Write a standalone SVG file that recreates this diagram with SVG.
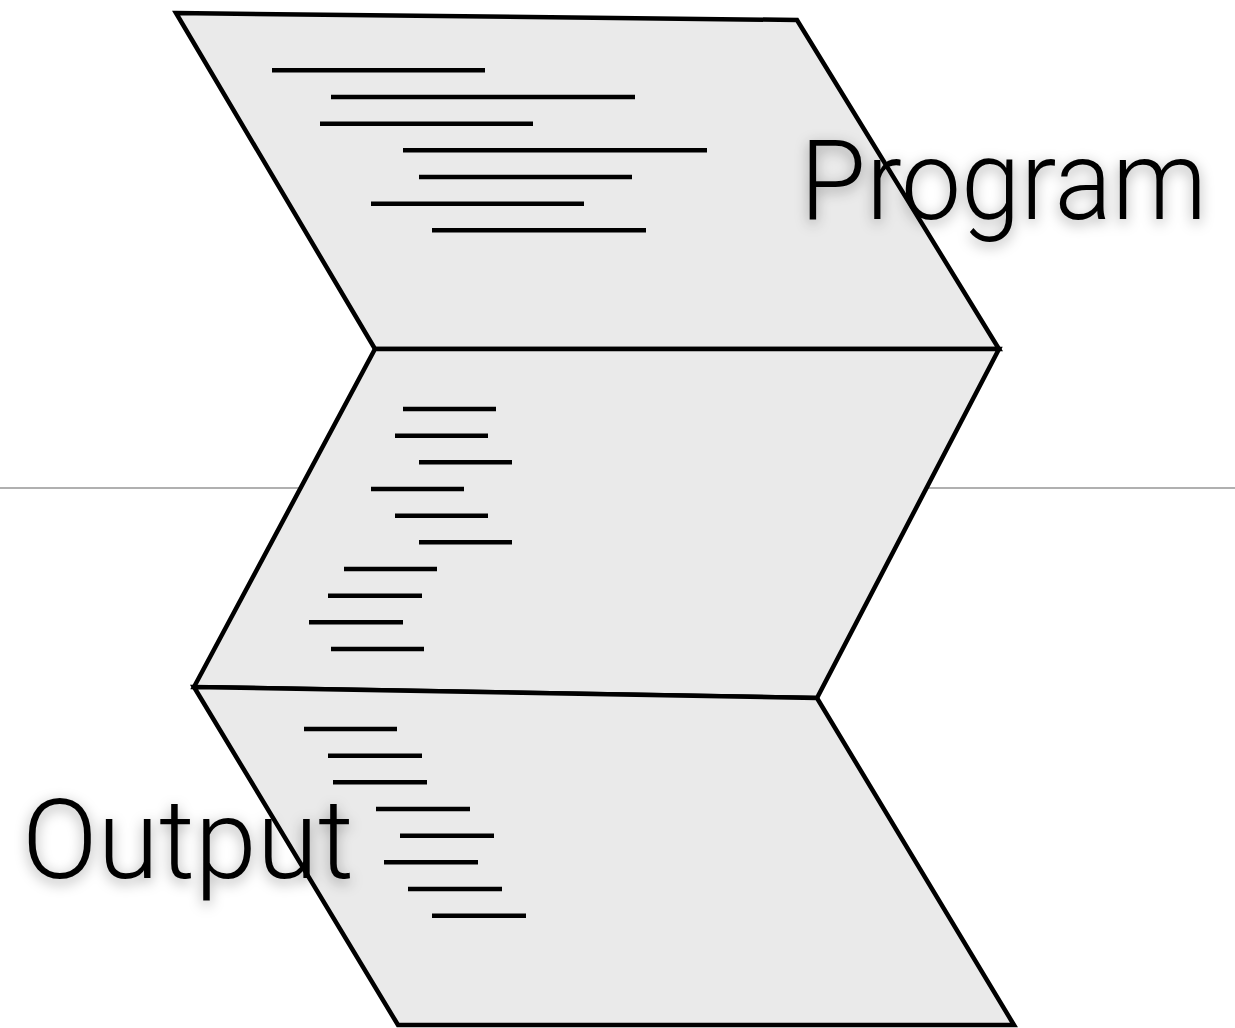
<svg xmlns="http://www.w3.org/2000/svg" width="1235" height="1028" viewBox="0 0 1235 1028">
<defs>
<style>
.panel{fill:#eaeaea;stroke:#000;stroke-width:4.5;stroke-linejoin:miter}
.ln{stroke:#000;stroke-width:4.5;stroke-linecap:butt}
.lbl{font-family:Roboto,"Liberation Sans",sans-serif;font-weight:300;font-size:112px;fill:#000}
</style>
<filter id="sh" x="-20%" y="-40%" width="140%" height="180%">
<feDropShadow dx="0" dy="4" stdDeviation="7" flood-color="#000" flood-opacity="0.35"/>
</filter>
</defs>
<rect width="1235" height="1028" fill="#fff"/>
<line x1="0" y1="488" x2="1235" y2="488" stroke="#b0b0b0" stroke-width="2"/>
<g id="panel-top">
<polygon class="panel" points="176,13 797,20 999,349 375,349"/>
<g>
<line class="ln" x1="272" y1="70.3" x2="485" y2="70.3"/>
<line class="ln" x1="331" y1="97" x2="635" y2="97"/>
<line class="ln" x1="320" y1="123.7" x2="533" y2="123.7"/>
<line class="ln" x1="403" y1="150.3" x2="707" y2="150.3"/>
<line class="ln" x1="419" y1="177" x2="632" y2="177"/>
<line class="ln" x1="371" y1="203.7" x2="584" y2="203.7"/>
<line class="ln" x1="432" y1="230.3" x2="646" y2="230.3"/>
</g>
</g>
<g id="panel-middle">
<polygon class="panel" points="375,349 999,349 817,698 194,687"/>
<g>
<line class="ln" x1="403" y1="409" x2="496" y2="409"/>
<line class="ln" x1="395" y1="435.7" x2="488" y2="435.7"/>
<line class="ln" x1="419" y1="462.3" x2="512" y2="462.3"/>
<line class="ln" x1="371" y1="489" x2="464" y2="489"/>
<line class="ln" x1="395" y1="515.7" x2="488" y2="515.7"/>
<line class="ln" x1="419" y1="542.3" x2="512" y2="542.3"/>
<line class="ln" x1="344" y1="569" x2="437" y2="569"/>
<line class="ln" x1="328" y1="595.7" x2="422" y2="595.7"/>
<line class="ln" x1="309" y1="622.3" x2="403" y2="622.3"/>
<line class="ln" x1="331" y1="649" x2="424" y2="649"/>
</g>
</g>
<g id="panel-bottom">
<polygon class="panel" points="194,687 817,698 1014,1025 398,1025"/>
<g>
<line class="ln" x1="304" y1="729" x2="397" y2="729"/>
<line class="ln" x1="328" y1="755.7" x2="422" y2="755.7"/>
<line class="ln" x1="333" y1="782.3" x2="427" y2="782.3"/>
<line class="ln" x1="376" y1="809" x2="470" y2="809"/>
<line class="ln" x1="400" y1="835.7" x2="494" y2="835.7"/>
<line class="ln" x1="384" y1="862.3" x2="478" y2="862.3"/>
<line class="ln" x1="408" y1="889" x2="502" y2="889"/>
<line class="ln" x1="432" y1="915.7" x2="526" y2="915.7"/>
</g>
</g>
<g id="label-program">
<text class="lbl" x="800" y="219" textLength="407" lengthAdjust="spacingAndGlyphs" filter="url(#sh)">Program</text>
</g>
<g id="label-output">
<text class="lbl" x="22" y="878" textLength="332" lengthAdjust="spacingAndGlyphs" filter="url(#sh)">Output</text>
</g>
</svg>
